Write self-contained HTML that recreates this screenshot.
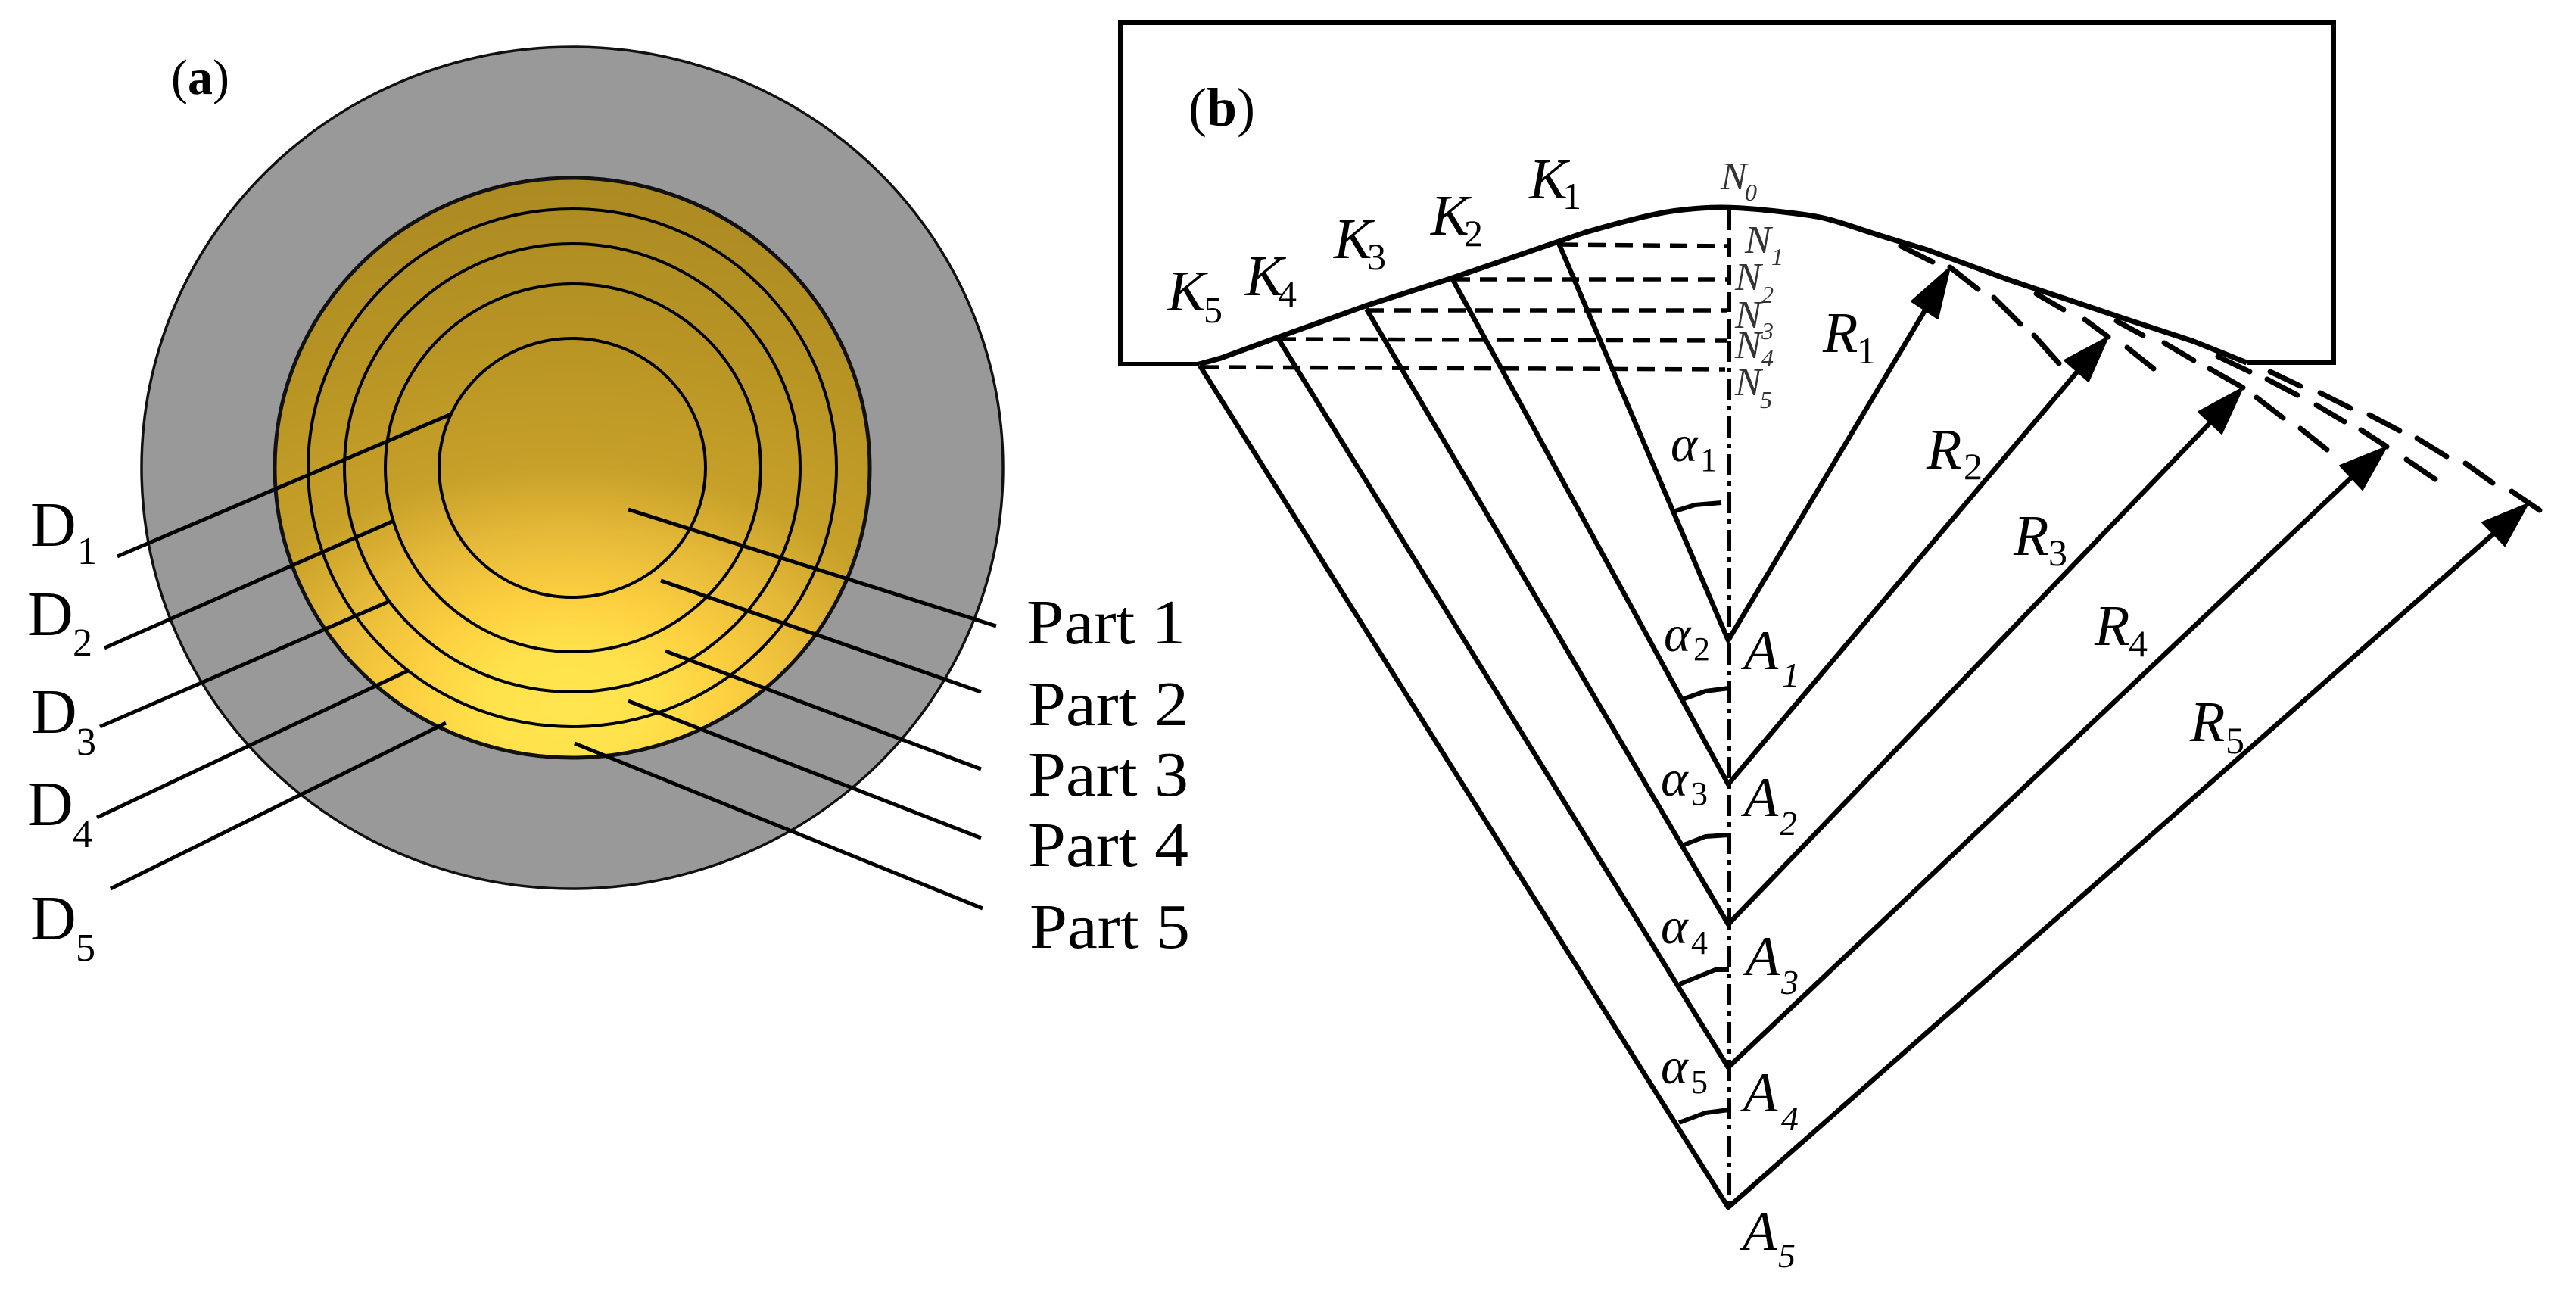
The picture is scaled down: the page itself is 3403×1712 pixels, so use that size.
<!DOCTYPE html>
<html><head><meta charset="utf-8"><style>
html,body{margin:0;padding:0;background:#fff}
svg{display:block}
text{font-family:"Liberation Serif",serif;fill:#000}
.lab{font-size:84px}
.dsub{font-size:52px}
.k{font-size:76px;font-style:italic}
.ks{font-size:50px}
.n{font-size:52px;font-style:italic;fill:#333}
.ns{font-size:32px;font-style:italic;fill:#333}
.al{font-size:68px;font-style:italic}
.as{font-size:44px}
.A{font-size:74px;font-style:italic}
.As{font-size:46px;font-style:italic}
</style></head><body>
<svg width="3403" height="1712" viewBox="0 0 3403 1712" xmlns="http://www.w3.org/2000/svg">
<defs>
<radialGradient id="g" gradientUnits="userSpaceOnUse" cx="0" cy="0" r="700" gradientTransform="translate(750 930) scale(1.5 1)">
<stop offset="0" stop-color="#ffe650"/>
<stop offset="0.1" stop-color="#ffe24c"/>
<stop offset="0.2" stop-color="#fdd040"/>
<stop offset="0.33" stop-color="#e4b838"/>
<stop offset="0.45" stop-color="#c6a028"/>
<stop offset="0.69" stop-color="#b89424"/>
<stop offset="1" stop-color="#ab8a22"/>
</radialGradient>
</defs>
<rect width="3403" height="1712" fill="#fff"/>
<!-- (a) -->
<ellipse cx="756" cy="618" rx="569" ry="556" fill="#999" stroke="#111" stroke-width="3.5"/>
<ellipse cx="756" cy="618" rx="393" ry="383" fill="url(#g)" stroke="#111" stroke-width="5"/>
<g fill="none" stroke="#000">
<g stroke-width="4">
<ellipse cx="756" cy="618" rx="349" ry="342"/>
<ellipse cx="756" cy="618" rx="301" ry="296"/>
<ellipse cx="757" cy="618" rx="248" ry="243"/>
<ellipse cx="756" cy="618" rx="176" ry="171"/>
</g>
<g stroke-width="5">
<line x1="155" y1="735" x2="596" y2="547"/>
<line x1="138" y1="856" x2="520" y2="688"/>
<line x1="132" y1="960" x2="515" y2="794"/>
<line x1="128" y1="1080" x2="539" y2="886"/>
<line x1="146" y1="1174" x2="589" y2="955"/>
<line x1="830" y1="673" x2="1316" y2="827"/>
<line x1="873" y1="767" x2="1296" y2="914"/>
<line x1="879" y1="860" x2="1296" y2="1016"/>
<line x1="830" y1="926" x2="1296" y2="1107"/>
<line x1="759" y1="982" x2="1298" y2="1200"/>
</g>
</g>
<text x="226" y="124" font-size="66">(<tspan font-weight="bold">a</tspan>)</text>
<text class="lab" x="40" y="721">D</text><text class="dsub" x="102" y="745">1</text>
<text class="lab" x="36" y="839">D</text><text class="dsub" x="96" y="866">2</text>
<text class="lab" x="41" y="968">D</text><text class="dsub" x="101" y="997">3</text>
<text class="lab" x="36" y="1090">D</text><text class="dsub" x="96" y="1119">4</text>
<text class="lab" x="40" y="1241">D</text><text class="dsub" x="100" y="1269">5</text>
<text class="lab" x="1356" y="850" textLength="210" lengthAdjust="spacingAndGlyphs">Part 1</text>
<text class="lab" x="1358" y="958" textLength="212" lengthAdjust="spacingAndGlyphs">Part 2</text>
<text class="lab" x="1358" y="1051" textLength="212" lengthAdjust="spacingAndGlyphs">Part 3</text>
<text class="lab" x="1358" y="1144" textLength="212" lengthAdjust="spacingAndGlyphs">Part 4</text>
<text class="lab" x="1360" y="1252" textLength="212" lengthAdjust="spacingAndGlyphs">Part 5</text>
<!-- (b) outline -->
<path d="M1584 481 L1480 481 L1480 30 L3083 30 L3083 479 L2968 479" fill="none" stroke="#000" stroke-width="6"/>
<path d="M1584 481 L1613 473 L1687 446 L1804 404 L1919 367 L2059 319 L2094 307 Q2177 283 2212 278.5 Q2247 274 2274 274 Q2301 274 2342 278.5 Q2384 283 2402 286.5 Q2420 290 2448 299.5 Q2476 309 2511 319.5 L2546 330 L2652 369 L2792 416 L2898 451 L2968 479" fill="none" stroke="#000" stroke-width="7" stroke-linejoin="round"/>
<!-- axis -->
<line x1="2284" y1="278" x2="2284" y2="448" stroke="#000" stroke-width="6" stroke-dasharray="26 10"/>
<line x1="2284" y1="450" x2="2284" y2="1595" stroke="#000" stroke-width="6" stroke-dasharray="28 8 6 8"/>
<!-- N dashed -->
<g stroke="#000" stroke-width="5.5" stroke-dasharray="23 13" fill="none">
<line x1="2062" y1="323" x2="2282" y2="325"/>
<line x1="1919" y1="369" x2="2282" y2="369"/>
<line x1="1805" y1="410" x2="2282" y2="410"/>
<line x1="1689" y1="448" x2="2282" y2="450"/>
<line x1="1587" y1="485" x2="2279" y2="488"/>
</g>
<!-- K-A lines and R arrows -->
<g stroke="#000" stroke-width="6.5" fill="none" stroke-linejoin="round">
<polyline points="2059,321 2283,846 2546,405"/>
<polyline points="1919,369 2283,1036 2745,490"/>
<polyline points="1805,408 2283,1221 2920,558"/>
<polyline points="1689,448 2283,1410 3106,631"/>
<polyline points="1585,483 2283,1595 3294,705"/>
</g>
<g fill="#000" stroke="#000" stroke-width="2" stroke-linejoin="round">
<polygon points="2576,353 2525,398 2560,421"/>
<polygon points="2785,445 2727,476 2759,504"/>
<polygon points="2963,512 2904,544 2935,573"/>
<polygon points="3153,590 3091,615 3121,647"/>
<polygon points="3340,665 3279,690 3309,721"/>
</g>
<!-- dashed arcs -->
<g stroke="#000" stroke-width="7" stroke-linecap="round" fill="none">
<line x1="2511" y1="325" x2="2553" y2="346"/>
<line x1="2576" y1="353" x2="2613" y2="382"/>
<line x1="2634" y1="393" x2="2669" y2="428"/>
<line x1="2687" y1="443" x2="2720" y2="480"/>
<line x1="2690" y1="388" x2="2726" y2="409"/>
<line x1="2754" y1="422" x2="2785" y2="445"/>
<line x1="2810" y1="459" x2="2845" y2="487"/>
<line x1="2796" y1="424" x2="2831" y2="443"/>
<line x1="2859" y1="453" x2="2898" y2="476"/>
<line x1="2919" y1="487" x2="2963" y2="512"/>
<line x1="2981" y1="525" x2="3016" y2="552"/>
<line x1="3039" y1="566" x2="3074" y2="594"/>
<line x1="2930" y1="471" x2="2972" y2="491"/>
<line x1="2995" y1="501" x2="3035" y2="522"/>
<line x1="3060" y1="535" x2="3097" y2="557"/>
<line x1="3119" y1="568" x2="3153" y2="590"/>
<line x1="3179" y1="607" x2="3217" y2="633"/>
<line x1="2999" y1="491" x2="3039" y2="510"/>
<line x1="3065" y1="519" x2="3105" y2="539"/>
<line x1="3130" y1="548" x2="3170" y2="569"/>
<line x1="3193" y1="579" x2="3232" y2="603"/>
<line x1="3257" y1="612" x2="3293" y2="638"/>
<line x1="3318" y1="649" x2="3355" y2="674"/>
</g>
<!-- angle arcs -->
<g stroke="#000" stroke-width="6" fill="none" stroke-linejoin="round">
<polyline points="2210,676 2239,667 2274,664"/>
<polyline points="2222,924 2253,913 2284,909"/>
<polyline points="2222,1117 2253,1105 2284,1103"/>
<polyline points="2219,1300 2266,1281 2284,1281"/>
<polyline points="2218,1483 2253,1470 2284,1466"/>
</g>
<!-- b labels -->
<text x="1570" y="166" font-size="72">(<tspan font-weight="bold">b</tspan>)</text>
<text class="k" x="2020" y="262">K</text><text class="ks" x="2064" y="276">1</text>
<text class="k" x="1890" y="310">K</text><text class="ks" x="1934" y="325">2</text>
<text class="k" x="1762" y="341">K</text><text class="ks" x="1806" y="356">3</text>
<text class="k" x="1645" y="390">K</text><text class="ks" x="1688" y="405">4</text>
<text class="k" x="1542" y="410">K</text><text class="ks" x="1590" y="426">5</text>
<text class="n" x="2273" y="250">N</text><text class="ns" x="2305" y="265">0</text>
<text class="n" x="2305" y="334">N</text><text class="ns" x="2340" y="350">1</text>
<text class="n" x="2292" y="383">N</text><text class="ns" x="2327" y="400">2</text>
<text class="n" x="2292" y="433">N</text><text class="ns" x="2327" y="448">3</text>
<text class="n" x="2292" y="473">N</text><text class="ns" x="2327" y="484">4</text>
<text class="n" x="2292" y="522">N</text><text class="ns" x="2325" y="539">5</text>
<text class="al" x="2207" y="609">α</text><text class="as" x="2246" y="622">1</text>
<text class="al" x="2198" y="860">α</text><text class="as" x="2237" y="872">2</text>
<text class="al" x="2194" y="1051">α</text><text class="as" x="2234" y="1063">3</text>
<text class="al" x="2194" y="1246">α</text><text class="as" x="2234" y="1260">4</text>
<text class="al" x="2194" y="1431">α</text><text class="as" x="2234" y="1444">5</text>
<text class="A" x="2304" y="884">A</text><text class="As" x="2354" y="907">1</text>
<text class="A" x="2304" y="1078">A</text><text class="As" x="2351" y="1103">2</text>
<text class="A" x="2306" y="1288">A</text><text class="As" x="2353" y="1313">3</text>
<text class="A" x="2303" y="1468">A</text><text class="As" x="2353" y="1493">4</text>
<text class="A" x="2302" y="1651">A</text><text class="As" x="2349" y="1674">5</text>
<text class="k" x="2408" y="465">R</text><text class="ks" x="2453" y="480">1</text>
<text class="k" x="2545" y="619">R</text><text class="ks" x="2594" y="633">2</text>
<text class="k" x="2660" y="733">R</text><text class="ks" x="2706" y="747">3</text>
<text class="k" x="2767" y="852">R</text><text class="ks" x="2812" y="867">4</text>
<text class="k" x="2893" y="979">R</text><text class="ks" x="2940" y="995">5</text>
</svg>
</body></html>
